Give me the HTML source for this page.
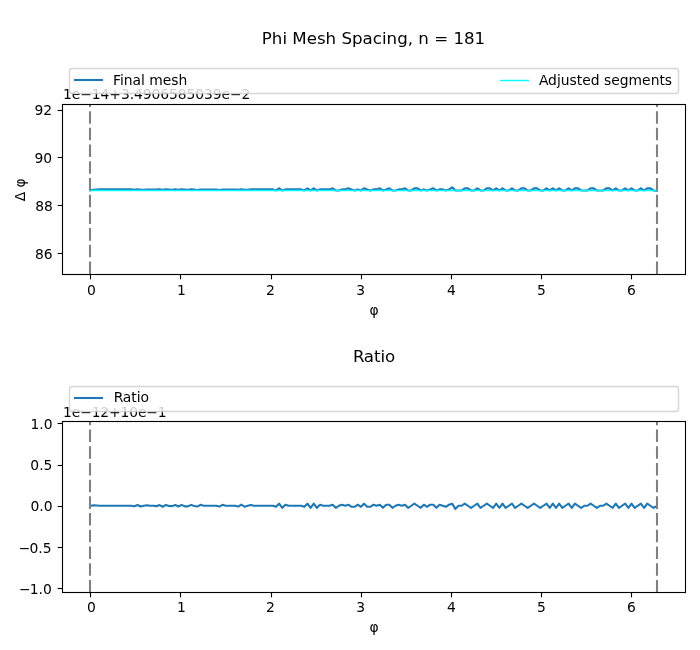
<!DOCTYPE html>
<html lang="en">
<head>
<meta charset="utf-8">
<title>Phi Mesh Spacing</title>
<style>
html,body{margin:0;padding:0;background:#fff;}
body{width:700px;height:650px;overflow:hidden;}
svg{display:block;will-change:transform;}
svg text{font-family:'DejaVu Sans','Liberation Sans',sans-serif;fill:#000;}
</style>
</head>
<body>
<svg width="700" height="650" viewBox="0 0 700 650">
<rect x="0" y="0" width="700" height="650" fill="#fff"/>
<clipPath id="clip1"><rect x="62.028" y="103.700" width="622.972" height="170.520"/></clipPath>
<g clip-path="url(#clip1)">
<polyline points="90.34,190.30 93.49,189.75 96.64,189.45 99.78,189.40 102.93,189.40 106.08,189.40 109.22,189.40 112.37,189.40 115.52,189.40 118.66,189.40 121.81,189.40 124.95,189.40 128.10,189.40 131.25,189.40 134.39,189.70 137.54,189.26 140.69,189.70 143.83,189.70 146.98,189.43 150.12,189.43 153.27,189.43 156.42,189.65 159.56,189.26 162.71,189.81 165.86,189.37 169.00,189.54 172.15,189.76 175.30,189.32 178.44,189.70 181.59,189.21 184.73,189.54 187.88,189.87 191.03,189.37 194.17,189.54 197.32,189.98 200.47,189.48 203.61,189.48 206.76,189.48 209.91,189.48 213.05,189.48 216.20,189.48 219.34,189.92 222.49,189.43 225.64,189.43 228.78,189.43 231.93,189.43 235.08,189.43 238.22,189.87 241.37,189.26 244.51,189.81 247.66,189.81 250.81,189.40 253.95,189.40 257.10,189.40 260.25,189.40 263.39,189.40 266.54,189.40 269.69,189.40 272.83,189.40 275.98,190.45 279.12,188.35 282.27,190.45 285.42,189.40 288.56,189.40 291.71,189.40 294.86,189.40 298.00,189.40 301.15,189.40 304.29,190.45 307.44,188.35 310.59,190.45 313.73,188.35 316.88,190.45 320.03,189.40 323.17,189.40 326.32,189.40 329.47,189.40 332.61,188.35 335.76,190.45 338.90,190.45 342.05,189.40 345.20,189.40 348.34,188.35 351.49,189.40 354.64,190.45 357.78,189.40 360.93,190.45 364.07,188.35 367.22,189.40 370.37,190.45 373.51,189.40 376.66,189.40 379.81,188.35 382.95,190.45 386.10,189.40 389.25,188.35 392.39,190.45 395.54,190.45 398.68,189.40 401.83,189.40 404.98,188.35 408.12,190.45 411.27,190.45 414.42,188.35 417.56,188.35 420.71,190.45 423.86,189.40 427.00,190.45 430.15,189.40 433.29,188.35 436.44,190.45 439.59,189.40 442.73,189.40 445.88,190.45 449.03,189.40 452.17,187.30 455.32,190.45 458.46,190.45 461.61,190.45 464.76,188.35 467.90,188.35 471.05,190.45 474.20,190.45 477.34,188.35 480.49,190.45 483.64,190.45 486.78,188.35 489.93,188.35 493.07,190.45 496.22,188.35 499.37,190.45 502.51,188.35 505.66,190.45 508.81,190.45 511.95,188.35 515.10,190.45 518.24,190.45 521.39,188.35 524.54,188.35 527.68,190.45 530.83,190.45 533.98,188.35 537.12,188.35 540.27,190.45 543.42,190.45 546.56,188.35 549.71,190.45 552.85,188.35 556.00,190.45 559.15,188.35 562.29,190.45 565.44,190.45 568.59,188.35 571.73,190.45 574.88,188.35 578.02,188.35 581.17,190.45 584.32,190.45 587.46,190.45 590.61,188.35 593.76,188.35 596.90,190.45 600.05,190.45 603.20,190.45 606.34,188.35 609.49,188.35 612.63,190.45 615.78,188.35 618.93,190.45 622.07,190.45 625.22,188.35 628.37,190.45 631.51,188.35 634.66,190.45 637.81,190.45 640.95,188.35 644.10,190.45 647.24,188.35 650.39,188.35 653.54,190.45 656.68,190.85" fill="none" stroke="#1f77b4" stroke-width="2.083" stroke-linejoin="round" stroke-linecap="square"/>
<polyline points="90.34,190.45 656.68,190.45" fill="none" stroke="#00ffff" stroke-width="1.389" stroke-linejoin="round" stroke-linecap="square"/>
<line x1="90" y1="274.05" x2="90" y2="103.700" stroke="#808080" stroke-width="2.083" stroke-dasharray="12.53 4.18"/>
<line x1="657" y1="274.05" x2="657" y2="103.700" stroke="#808080" stroke-width="2.083" stroke-dasharray="12.53 4.18"/>
</g>
<line x1="90.5" y1="274.5" x2="90.5" y2="279.361" stroke="#000" stroke-width="1.111"/>
<line x1="180.5" y1="274.5" x2="180.5" y2="279.361" stroke="#000" stroke-width="1.111"/>
<line x1="271.5" y1="274.5" x2="271.5" y2="279.361" stroke="#000" stroke-width="1.111"/>
<line x1="361.5" y1="274.5" x2="361.5" y2="279.361" stroke="#000" stroke-width="1.111"/>
<line x1="451.5" y1="274.5" x2="451.5" y2="279.361" stroke="#000" stroke-width="1.111"/>
<line x1="541.5" y1="274.5" x2="541.5" y2="279.361" stroke="#000" stroke-width="1.111"/>
<line x1="631.5" y1="274.5" x2="631.5" y2="279.361" stroke="#000" stroke-width="1.111"/>
<line x1="62.5" y1="110.5" x2="57.639" y2="110.5" stroke="#000" stroke-width="1.111"/>
<line x1="62.5" y1="157.5" x2="57.639" y2="157.5" stroke="#000" stroke-width="1.111"/>
<line x1="62.5" y1="205.5" x2="57.639" y2="205.5" stroke="#000" stroke-width="1.111"/>
<line x1="62.5" y1="253.5" x2="57.639" y2="253.5" stroke="#000" stroke-width="1.111"/>
<rect x="62.5" y="104.5" width="623.0" height="170.0" fill="none" stroke="#000" stroke-width="1.111" stroke-linejoin="miter"/>
<text x="91.295" y="295.000" font-size="13.8889" text-anchor="middle">0</text>
<text x="181.520" y="295.000" font-size="13.8889" text-anchor="middle">1</text>
<text x="270.316" y="295.000" font-size="13.8889" text-anchor="middle">2</text>
<text x="360.571" y="295.000" font-size="13.8889" text-anchor="middle">3</text>
<text x="451.387" y="295.000" font-size="13.8889" text-anchor="middle">4</text>
<text x="541.502" y="295.000" font-size="13.8889" text-anchor="middle">5</text>
<text x="631.398" y="295.000" font-size="13.8889" text-anchor="middle">6</text>
<text x="52.106" y="115.000" font-size="13.8889" text-anchor="end">92</text>
<text x="52.106" y="163.000" font-size="13.8889" text-anchor="end">90</text>
<text x="52.806" y="211.000" font-size="13.8889" text-anchor="end">88</text>
<text x="52.606" y="259.000" font-size="13.8889" text-anchor="end">86</text>
<text x="374.014" y="315.000" font-size="13.8889" text-anchor="middle">φ</text>
<text transform="translate(25.200,189.760) rotate(-90)" font-size="13.8889" text-anchor="middle">Δ φ</text>
<text x="63.028" y="99.000" font-size="13.8889" text-anchor="start" textLength="187.4" lengthAdjust="spacing">1e−14+3.4906585039e−2</text>
<text x="373.514" y="44.000" font-size="16.6667" text-anchor="middle">Phi Mesh Spacing, n = 181</text>
<rect x="69.5" y="68.5" width="609.0" height="25.0" rx="2.778" ry="2.778" fill="#fff" fill-opacity="0.8" stroke="#ccc" stroke-opacity="0.8" stroke-width="1.389"/>
<line x1="75.000" y1="80" x2="102.000" y2="80" stroke="#1f77b4" stroke-width="2.083" stroke-linecap="square"/>
<text x="112.917" y="84.794" font-size="13.8889" text-anchor="start">Final mesh</text>
<line x1="500.500" y1="80.5" x2="528.500" y2="80.5" stroke="#00ffff" stroke-width="1.389" stroke-linecap="square"/>
<text x="538.875" y="84.794" font-size="13.8889" text-anchor="start">Adjusted segments</text>
<clipPath id="clip2"><rect x="62.028" y="421.300" width="622.972" height="171.150"/></clipPath>
<g clip-path="url(#clip2)">
<polyline points="90.34,506.05 93.49,505.20 96.64,505.45 99.78,505.70 102.93,505.75 106.08,505.75 109.22,505.75 112.37,505.75 115.52,505.75 118.66,505.75 121.81,505.75 124.95,505.75 128.10,505.75 131.25,505.75 134.39,506.30 137.54,504.95 140.69,506.55 143.83,505.75 146.98,505.25 150.12,505.75 153.27,505.75 156.42,506.15 159.56,505.05 162.71,506.75 165.86,504.95 169.00,506.05 172.15,506.15 175.30,504.95 178.44,506.45 181.59,504.85 184.73,506.35 187.88,506.35 191.03,504.85 194.17,506.05 197.32,506.55 200.47,504.85 203.61,505.75 206.76,505.75 209.91,505.75 213.05,505.75 216.20,505.75 219.34,506.55 222.49,504.85 225.64,505.75 228.78,505.75 231.93,505.75 235.08,505.75 238.22,506.55 241.37,504.65 244.51,506.75 247.66,505.75 250.81,505.00 253.95,505.75 257.10,505.75 260.25,505.75 263.39,505.75 266.54,505.75 269.69,505.75 272.83,505.75 275.98,506.80 279.12,503.65 282.27,507.85 285.42,504.70 288.56,505.75 291.71,505.75 294.86,505.75 298.00,505.75 301.15,505.75 304.29,506.80 307.44,503.65 310.59,507.85 313.73,503.65 316.88,507.85 320.03,504.70 323.17,505.75 326.32,505.75 329.47,505.75 332.61,504.70 335.76,507.85 338.90,505.75 342.05,504.70 345.20,505.75 348.34,504.70 351.49,506.80 354.64,506.80 357.78,504.70 360.93,506.80 364.07,503.65 367.22,506.80 370.37,506.80 373.51,504.70 376.66,505.75 379.81,504.70 382.95,507.85 386.10,504.70 389.25,504.70 392.39,507.85 395.54,505.75 398.68,504.70 401.83,505.75 404.98,504.70 408.12,507.85 411.27,505.75 414.42,503.65 417.56,505.75 420.71,507.85 423.86,504.70 427.00,506.80 430.15,504.70 433.29,504.70 436.44,507.85 439.59,504.70 442.73,505.75 445.88,506.80 449.03,504.70 452.17,503.65 455.32,508.90 458.46,505.75 461.61,505.75 464.76,503.65 467.90,505.75 471.05,507.85 474.20,505.75 477.34,503.65 480.49,507.85 483.64,505.75 486.78,503.65 489.93,505.75 493.07,507.85 496.22,503.65 499.37,507.85 502.51,503.65 505.66,507.85 508.81,505.75 511.95,503.65 515.10,507.85 518.24,505.75 521.39,503.65 524.54,505.75 527.68,507.85 530.83,505.75 533.98,503.65 537.12,505.75 540.27,507.85 543.42,505.75 546.56,503.65 549.71,507.85 552.85,503.65 556.00,507.85 559.15,503.65 562.29,507.85 565.44,505.75 568.59,503.65 571.73,507.85 574.88,503.65 578.02,505.75 581.17,507.85 584.32,505.75 587.46,505.75 590.61,503.65 593.76,505.75 596.90,507.85 600.05,505.75 603.20,505.75 606.34,503.65 609.49,505.75 612.63,507.85 615.78,503.65 618.93,507.85 622.07,505.75 625.22,503.65 628.37,507.85 631.51,503.65 634.66,507.85 637.81,505.75 640.95,503.65 644.10,507.85 647.24,503.65 650.39,505.75 653.54,507.85 656.68,506.15" fill="none" stroke="#1f77b4" stroke-width="2.083" stroke-linejoin="round" stroke-linecap="square"/>
<line x1="90" y1="592.45" x2="90" y2="421.300" stroke="#808080" stroke-width="2.083" stroke-dasharray="12.53 4.18"/>
<line x1="657" y1="592.45" x2="657" y2="421.300" stroke="#808080" stroke-width="2.083" stroke-dasharray="12.53 4.18"/>
</g>
<line x1="90.5" y1="592.5" x2="90.5" y2="597.361" stroke="#000" stroke-width="1.111"/>
<line x1="180.5" y1="592.5" x2="180.5" y2="597.361" stroke="#000" stroke-width="1.111"/>
<line x1="271.5" y1="592.5" x2="271.5" y2="597.361" stroke="#000" stroke-width="1.111"/>
<line x1="361.5" y1="592.5" x2="361.5" y2="597.361" stroke="#000" stroke-width="1.111"/>
<line x1="451.5" y1="592.5" x2="451.5" y2="597.361" stroke="#000" stroke-width="1.111"/>
<line x1="541.5" y1="592.5" x2="541.5" y2="597.361" stroke="#000" stroke-width="1.111"/>
<line x1="631.5" y1="592.5" x2="631.5" y2="597.361" stroke="#000" stroke-width="1.111"/>
<line x1="62.5" y1="423.5" x2="57.639" y2="423.5" stroke="#000" stroke-width="1.111"/>
<line x1="62.5" y1="465.5" x2="57.639" y2="465.5" stroke="#000" stroke-width="1.111"/>
<line x1="62.5" y1="506.5" x2="57.639" y2="506.5" stroke="#000" stroke-width="1.111"/>
<line x1="62.5" y1="547.5" x2="57.639" y2="547.5" stroke="#000" stroke-width="1.111"/>
<line x1="62.5" y1="588.5" x2="57.639" y2="588.5" stroke="#000" stroke-width="1.111"/>
<rect x="62.5" y="421.5" width="623.0" height="171.0" fill="none" stroke="#000" stroke-width="1.111" stroke-linejoin="miter"/>
<text x="91.295" y="612.000" font-size="13.8889" text-anchor="middle">0</text>
<text x="181.520" y="612.000" font-size="13.8889" text-anchor="middle">1</text>
<text x="270.316" y="612.000" font-size="13.8889" text-anchor="middle">2</text>
<text x="360.571" y="612.000" font-size="13.8889" text-anchor="middle">3</text>
<text x="451.387" y="612.000" font-size="13.8889" text-anchor="middle">4</text>
<text x="541.502" y="612.000" font-size="13.8889" text-anchor="middle">5</text>
<text x="631.398" y="612.000" font-size="13.8889" text-anchor="middle">6</text>
<text x="52.606" y="429.000" font-size="13.8889" text-anchor="end">1.0</text>
<text x="52.406" y="470.000" font-size="13.8889" text-anchor="end">0.5</text>
<text x="52.506" y="511.000" font-size="13.8889" text-anchor="end">0.0</text>
<text x="18.806 29.528" y="553.000" font-size="13.8889">−0.5</text>
<text x="19.006 29.728" y="594.000" font-size="13.8889">−1.0</text>
<text x="374.014" y="632.000" font-size="13.8889" text-anchor="middle">φ</text>
<text x="63.028" y="417.000" font-size="13.8889" text-anchor="start" textLength="103.6" lengthAdjust="spacing">1e−12+10e−1</text>
<text x="352.931 363.714" y="362.000" font-size="16.6667">Ratio</text>
<rect x="69.5" y="386.5" width="609.0" height="25.0" rx="2.778" ry="2.778" fill="#fff" fill-opacity="0.8" stroke="#ccc" stroke-opacity="0.8" stroke-width="1.389"/>
<line x1="75.000" y1="398" x2="102.000" y2="398" stroke="#1f77b4" stroke-width="2.083" stroke-linecap="square"/>
<text x="113.817 122.718" y="402.390" font-size="13.8889">Ratio</text>
</svg>
</body>
</html>
